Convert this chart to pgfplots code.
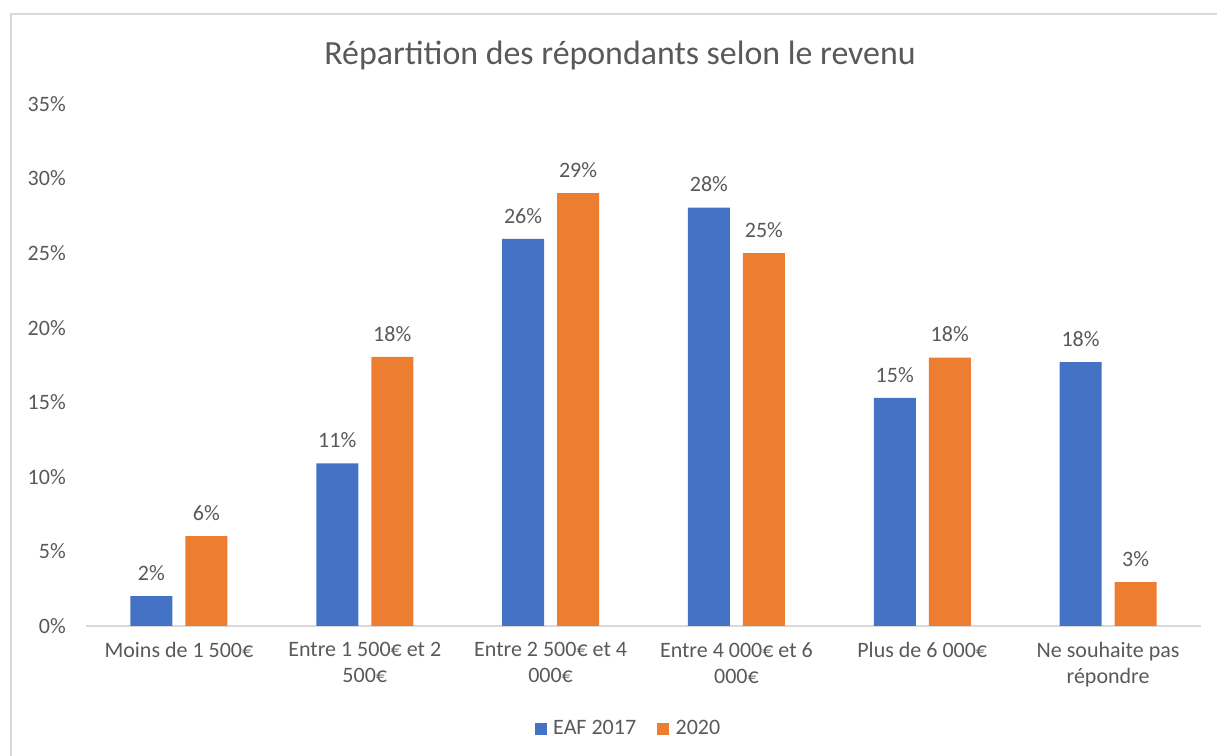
\documentclass[border=0pt]{standalone}
\usepackage{pgfplots}
\pgfplotsset{compat=1.18}
\usepackage{fontspec}
\setmainfont{Carlito}
\definecolor{eafblue}{HTML}{4472C4}
\definecolor{eaforange}{HTML}{ED7D31}
\definecolor{txt}{HTML}{595959}
\definecolor{framegray}{HTML}{D9D9D9}
\begin{document}
\begin{tikzpicture}[x=0.75pt,y=0.75pt]
\path[use as bounding box] (0,0) rectangle (1217,756);
\draw[framegray, line width=1.5pt] (11,0) -- (11,742) -- (1217,742);
\node[txt, font=\fontsize{25.4}{30}\selectfont] at (620,701) {Répartition des répondants selon le revenu};
\begin{axis}[
  at={(64.5pt,97.5pt)}, anchor=south west,
  scale only axis,
  width=836.25pt, height=391.5pt,
  xmin=-0.5, xmax=5.5, ymin=0, ymax=35,
  ybar=9.75pt, bar width=31.5pt,
  axis y line=none,
  axis x line*=bottom,
  x axis line style={framegray, line width=1.2pt, -},
  xtick=data,
  xticklabels={{Moins de 1 500€},{Entre 1 500€ et 2\\500€},{Entre 2 500€ et 4\\000€},{Entre 4 000€ et 6\\000€},{Plus de 6 000€},{Ne souhaite pas\\répondre}},
  xticklabel style={align=center, text=txt, font=\fontsize{16.5}{19.5}\selectfont, anchor=north, yshift=-9pt},
  major tick length=0pt,
  ytick={0,5,...,35},
  clip=false,
  /pgf/number format/assume math mode=true,
  nodes near coords={\pgfmathprintnumber[fixed,precision=0,assume math mode=true]{\pgfplotspointmeta}\%},
  every node near coord/.append style={text=txt, font=\fontsize{16.5}{19.5}\selectfont, inner sep=0pt, anchor=south, yshift=11.5pt},
  legend columns=2,
  legend style={at={(0.487,-0.197)}, anchor=center, draw=none, fill=none, text=txt, font=\fontsize{16.5}{19.5}\selectfont, /tikz/every even column/.append style={column sep=14pt}, /tikz/every odd column/.append style={column sep=3pt}},
  legend image code/.code={\fill[#1] (0pt,-4.3pt) rectangle (8.6pt,4.3pt);},
]
\addplot[fill=eafblue, draw=none] coordinates {(0,2.0) (1,10.9) (2,25.95) (3,28.05) (4,15.3) (5,17.7)};
\addplot[fill=eaforange, draw=none] coordinates {(0,6.03) (1,18.04) (2,29.03) (3,25.0) (4,18.0) (5,2.95)};
\legend{EAF 2017, 2020}
\foreach \v in {0,5,...,35} {
  \edef\tmp{\noexpand\node[txt, font=\noexpand\fontsize{16.5}{19.5}\noexpand\selectfont, anchor=east, inner sep=0pt] at (axis cs:-0.5,\v) [xshift=-15pt] {\v\noexpand\%};}
  \tmp
}
\end{axis}
\end{tikzpicture}
\end{document}
